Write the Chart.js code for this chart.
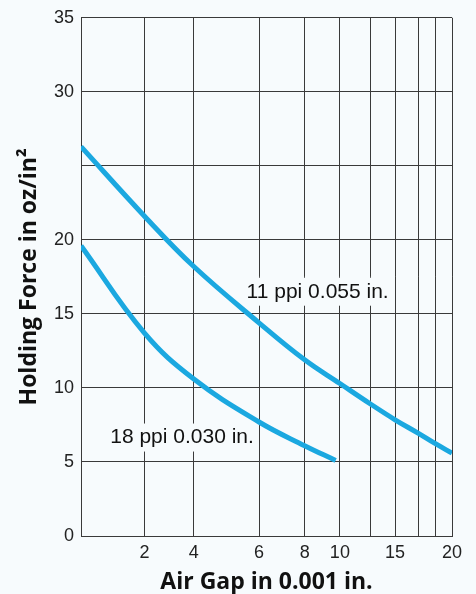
<!DOCTYPE html>
<html>
<head>
<meta charset="utf-8">
<script src="https://cdn.jsdelivr.net/npm/chart.js@4/dist/chart.umd.min.js"></script>
<style>
  html, body { margin: 0; padding: 0; background: #f7fbfd; }
  #graphe { display: block; }
</style>
</head>
<body>
<canvas id="graphe" width="476" height="594"></canvas>
<script>
// Data
const gap055 = [0, 2, 4, 6, 8, 10, 12.5, 15, 17, 18.5, 20];
const force055 = [26.3, 21.6, 18.2, 14.4, 11.9, 10.3, 8.9, 7.85, 6.95, 6.25, 5.6];

const gap030 = [0, 2, 4, 6, 8, 9.76];
const force030 = [19.6, 13.7, 10.6, 7.7, 6.1, 5.1];

const seriesNames = ["11 ppi 0.055 in.", "18 ppi 0.030 in."];
const gapGrid = [2, 4, 6, 8, 10, 12.5, 15, 17, 18.5, 20];
const gapLabels = [2, 4, 6, 8, 10, 15, 20];
const forceTicks = [0, 5, 10, 15, 20, 25, 30, 35];
const forceLabels = [0, 5, 10, 15, 20, 30, 35];

// the air gap axis is not evenly spaced: knots of a piecewise scale
const axisKnots = [0, 2, 4, 6, 8, 10, 12.5, 15, 17, 18.5, 20];
const axisFractions = [0, 0.1712, 0.3041, 0.4798, 0.6028, 0.6978, 0.7812, 0.8466, 0.9085, 0.9543, 1];

function interp(v, xs, ys) {
    let i = 0;
    while (i < xs.length - 2 && v > xs[i + 1]) i++;
    const t = (v - xs[i]) / (xs[i + 1] - xs[i]);
    return ys[i] + t * (ys[i + 1] - ys[i]);
}

class WarpScale extends Chart.LinearScale {
    getPixelForValue(value) {
        return this.left + interp(value, axisKnots, axisFractions) * this.width;
    }
    getValueForPixel(pixel) {
        return interp((pixel - this.left) / this.width, axisFractions, axisKnots);
    }
}
WarpScale.id = "warp";
WarpScale.defaults = Chart.LinearScale.defaults;
Chart.register(WarpScale);

function points(xs, ys) {
    return xs.map((x, i) => ({x: x, y: ys[i]}));
}

//Curve labels with a box hiding the grid
const curveLabels = {
    id: "curveLabels",
    beforeDatasetsDraw(chart) {
        const ctx = chart.ctx;
        const xs = chart.scales.x, ys = chart.scales.y;
        const spots = [[5.62, 16.5], [0.92, 6.65]];
        ctx.save();
        ctx.font = "21px 'Liberation Sans', Arial, sans-serif";
        ctx.textBaseline = "middle";
        ctx.textAlign = "left";
        seriesNames.forEach((name, i) => {
            const px = xs.getPixelForValue(spots[i][0]);
            const py = ys.getPixelForValue(spots[i][1]);
            const w = ctx.measureText(name).width;
            ctx.fillStyle = "#f7fbfd";
            ctx.fillRect(px - 3, py - 14, w + 6, 28);
            ctx.fillStyle = "#111";
            ctx.fillText(name, px, py);
        });
        ctx.restore();
    }
};

const lineColor = "#1ba8e0";
const gridColor = "#3a3a3a";

new Chart(document.getElementById("graphe"), {
    type: "line",
    data: {
        datasets: [
            {
                label: seriesNames[0],
                data: points(gap055, force055),
                borderColor: lineColor,
                borderWidth: 5,
                borderCapStyle: "butt",
                pointRadius: 0,
                tension: 0.4
            },
            {
                label: seriesNames[1],
                data: points(gap030, force030),
                borderColor: lineColor,
                borderWidth: 5,
                borderCapStyle: "butt",
                pointRadius: 0,
                tension: 0.4
            }
        ]
    },
    options: {
        responsive: false,
        animation: false,
        layout: { padding: { top: 15, right: 24, left: 0, bottom: 0 } },
        plugins: { legend: { display: false }, tooltip: { enabled: false } },
        scales: {
            x: {
                type: "warp",
                min: 0,
                max: 20,
                afterBuildTicks: axis => { axis.ticks = gapGrid.map(v => ({value: v})); },
                afterFit: axis => { axis.height = 58; },
                grid: { color: gridColor, lineWidth: 1, drawTicks: false },
                border: { color: gridColor, width: 1 },
                ticks: {
                    autoSkip: false,
                    maxRotation: 0,
                    padding: 6,
                    color: "#222",
                    font: { family: "'Liberation Sans', Arial, sans-serif", size: 18 },
                    callback: v => gapLabels.includes(v) ? String(v) : ""
                },
                title: {
                    display: true,
                    text: "Air Gap in 0.001 in.",
                    color: "#111",
                    font: { family: "'Open Sans', sans-serif", size: 23, weight: "bold", lineHeight: 1 },
                    padding: { top: 0, bottom: 0 }
                }
            },
            y: {
                min: 0,
                max: 35,
                afterBuildTicks: axis => { axis.ticks = forceTicks.map(v => ({value: v})); },
                afterFit: axis => { axis.width = 81; },
                grid: { color: gridColor, lineWidth: 1, drawTicks: false },
                border: { color: gridColor, width: 1 },
                ticks: {
                    padding: 7,
                    color: "#222",
                    font: { family: "'Liberation Sans', Arial, sans-serif", size: 18 },
                    callback: v => forceLabels.includes(v) ? String(v) : ""
                },
                title: {
                    display: true,
                    text: "Holding Force in oz/in²",
                    color: "#111",
                    font: { family: "'Open Sans', sans-serif", size: 23, weight: "bold", lineHeight: 1 },
                    padding: { top: 18, bottom: 0 }
                }
            }
        }
    },
    plugins: [curveLabels]
});
</script>
</body>
</html>
